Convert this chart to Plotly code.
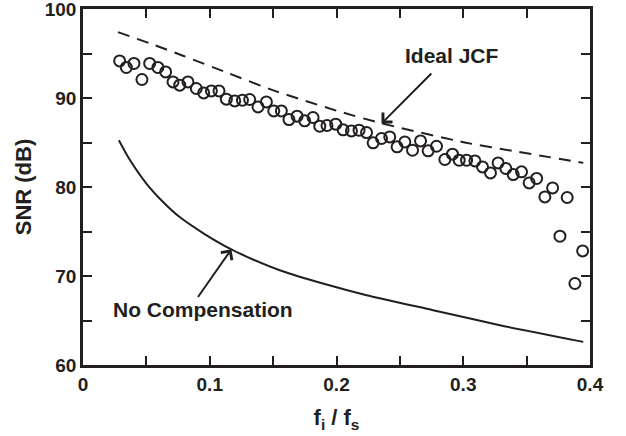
import plotly.graph_objects as go

# Measured data (circles)
meas_x = [0.0289, 0.0342, 0.0402, 0.0465, 0.0526, 0.0591, 0.0652, 0.0710, 0.0763, 0.0828,
          0.0894, 0.0952, 0.1013, 0.1073, 0.1131, 0.1197, 0.1258, 0.1315, 0.1381, 0.1447,
          0.1505, 0.1565, 0.1625, 0.1689, 0.1749, 0.1815, 0.1868, 0.1925, 0.1994, 0.2052,
          0.2118, 0.2178, 0.2237, 0.2289, 0.2355, 0.2420, 0.2478, 0.2539, 0.2600, 0.2663,
          0.2723, 0.2789, 0.2855, 0.2915, 0.2968, 0.3026, 0.3092, 0.3152, 0.3215, 0.3275,
          0.3336, 0.3394, 0.3460, 0.3520, 0.3579, 0.3644, 0.3705, 0.3763, 0.3820, 0.3881,
          0.3942]
meas_y = [94.17, 93.43, 93.88, 92.08, 93.88, 93.43, 92.93, 91.81, 91.44, 91.81,
          91.07, 90.57, 90.80, 90.80, 89.87, 89.67, 89.75, 89.83, 89.00, 89.56,
          88.55, 88.55, 87.58, 87.96, 87.43, 87.81, 86.83, 86.91, 87.06, 86.42,
          86.30, 86.38, 86.12, 84.96, 85.45, 85.63, 84.51, 85.07, 84.13, 85.18,
          84.06, 84.58, 83.09, 83.69, 83.01, 83.01, 82.93, 82.26, 81.58, 82.71,
          82.08, 81.40, 81.70, 80.46, 80.96, 78.89, 79.90, 74.47, 78.82, 69.16,
          72.82]

# Ideal JCF (dashed)
ideal_x = [0.0276, 0.0526, 0.0789, 0.1144, 0.1513, 0.2018, 0.2355, 0.3020, 0.3427, 0.3947]
ideal_y = [97.40, 96.15, 94.75, 92.80, 90.80, 88.50, 87.15, 84.98, 83.97, 82.71]

# No compensation (solid)
nocomp_x = [0.0283, 0.0363, 0.0500, 0.0630, 0.0763, 0.0950, 0.1171, 0.1350, 0.1552, 0.1900,
            0.2237, 0.2762, 0.3289, 0.3947]
nocomp_y = [85.26, 83.20, 80.39, 78.35, 76.62, 74.80, 72.98, 71.80, 70.65, 69.12,
            67.84, 66.16, 64.47, 62.60]

x_ticks = [0, 0.1, 0.2, 0.3, 0.4]
x_ticktext = ["0", "0.1", "0.2", "0.3", "0.4"]
y_ticks = [60, 70, 80, 90, 100]

INK = "#231f20"
FONT = "Liberation Sans, Arial, Helvetica, sans-serif"

fig = go.Figure()
fig.add_trace(go.Scatter(x=ideal_x, y=ideal_y, mode="lines",
                         line=dict(color=INK, width=2, dash="12px,8px", shape="spline", smoothing=0.5),
                         showlegend=False, hoverinfo="skip"))
fig.add_trace(go.Scatter(x=nocomp_x, y=nocomp_y, mode="lines",
                         line=dict(color=INK, width=2, shape="spline", smoothing=0.6),
                         showlegend=False, hoverinfo="skip"))
fig.add_trace(go.Scatter(x=meas_x, y=meas_y, mode="markers",
                         marker=dict(symbol="circle-open", size=11, color=INK, line=dict(width=2, color=INK)),
                         showlegend=False))

axis_common = dict(
    showline=True, linecolor=INK, linewidth=2.5, mirror="allticks",
    ticks="inside", ticklen=9, tickwidth=2, tickcolor=INK,
    showgrid=False, zeroline=False, automargin=False, ticklabeloverflow="allow",
)

fig.update_xaxes(range=[0, 0.4], tickvals=x_ticks, ticktext=x_ticktext,
                 minor=dict(dtick=0.05, tick0=0, ticks="inside", ticklen=9, tickwidth=2, tickcolor=INK),
                 tickfont=dict(family=FONT, size=19, color=INK, weight="bold"),
                 title=dict(text="f<sub>i</sub> / f<sub>s</sub>", standoff=17,
                            font=dict(family=FONT, size=22, color=INK, weight="bold")),
                 **axis_common)
fig.update_yaxes(range=[60, 100], tickvals=y_ticks,
                 minor=dict(dtick=5, tick0=60, ticks="inside", ticklen=9, tickwidth=2, tickcolor=INK),
                 tickfont=dict(family=FONT, size=19, color=INK, weight="bold"),
                 title=dict(text="SNR (dB)", standoff=8,
                            font=dict(family=FONT, size=22, color=INK, weight="bold")),
                 **axis_common)

ann_font = dict(family=FONT, size=21, color=INK, weight="bold")
fig.add_annotation(x=0.2355, y=87.13, ax=0.276, ay=92.93, xref="x", yref="y", axref="x", ayref="y",
                   text="", showarrow=True, arrowhead=4, arrowsize=1.3, arrowwidth=2, arrowcolor=INK)
fig.add_annotation(x=0.1171, y=73.01, ax=0.0899, ay=67.47, xref="x", yref="y", axref="x", ayref="y",
                   text="", showarrow=True, arrowhead=4, arrowsize=1.3, arrowwidth=2, arrowcolor=INK)
fig.add_annotation(x=0.2914, y=94.8, xref="x", yref="y", text="Ideal JCF", showarrow=False, font=ann_font)
fig.add_annotation(x=0.0944, y=66.2, xref="x", yref="y", text="No Compensation", showarrow=False, font=ann_font)

fig.update_layout(
    width=626, height=436,
    margin=dict(l=83, r=36, t=9, b=71),
    paper_bgcolor="white", plot_bgcolor="white",
    font=dict(family=FONT, color=INK),
)

fig.write_html("out.html")
